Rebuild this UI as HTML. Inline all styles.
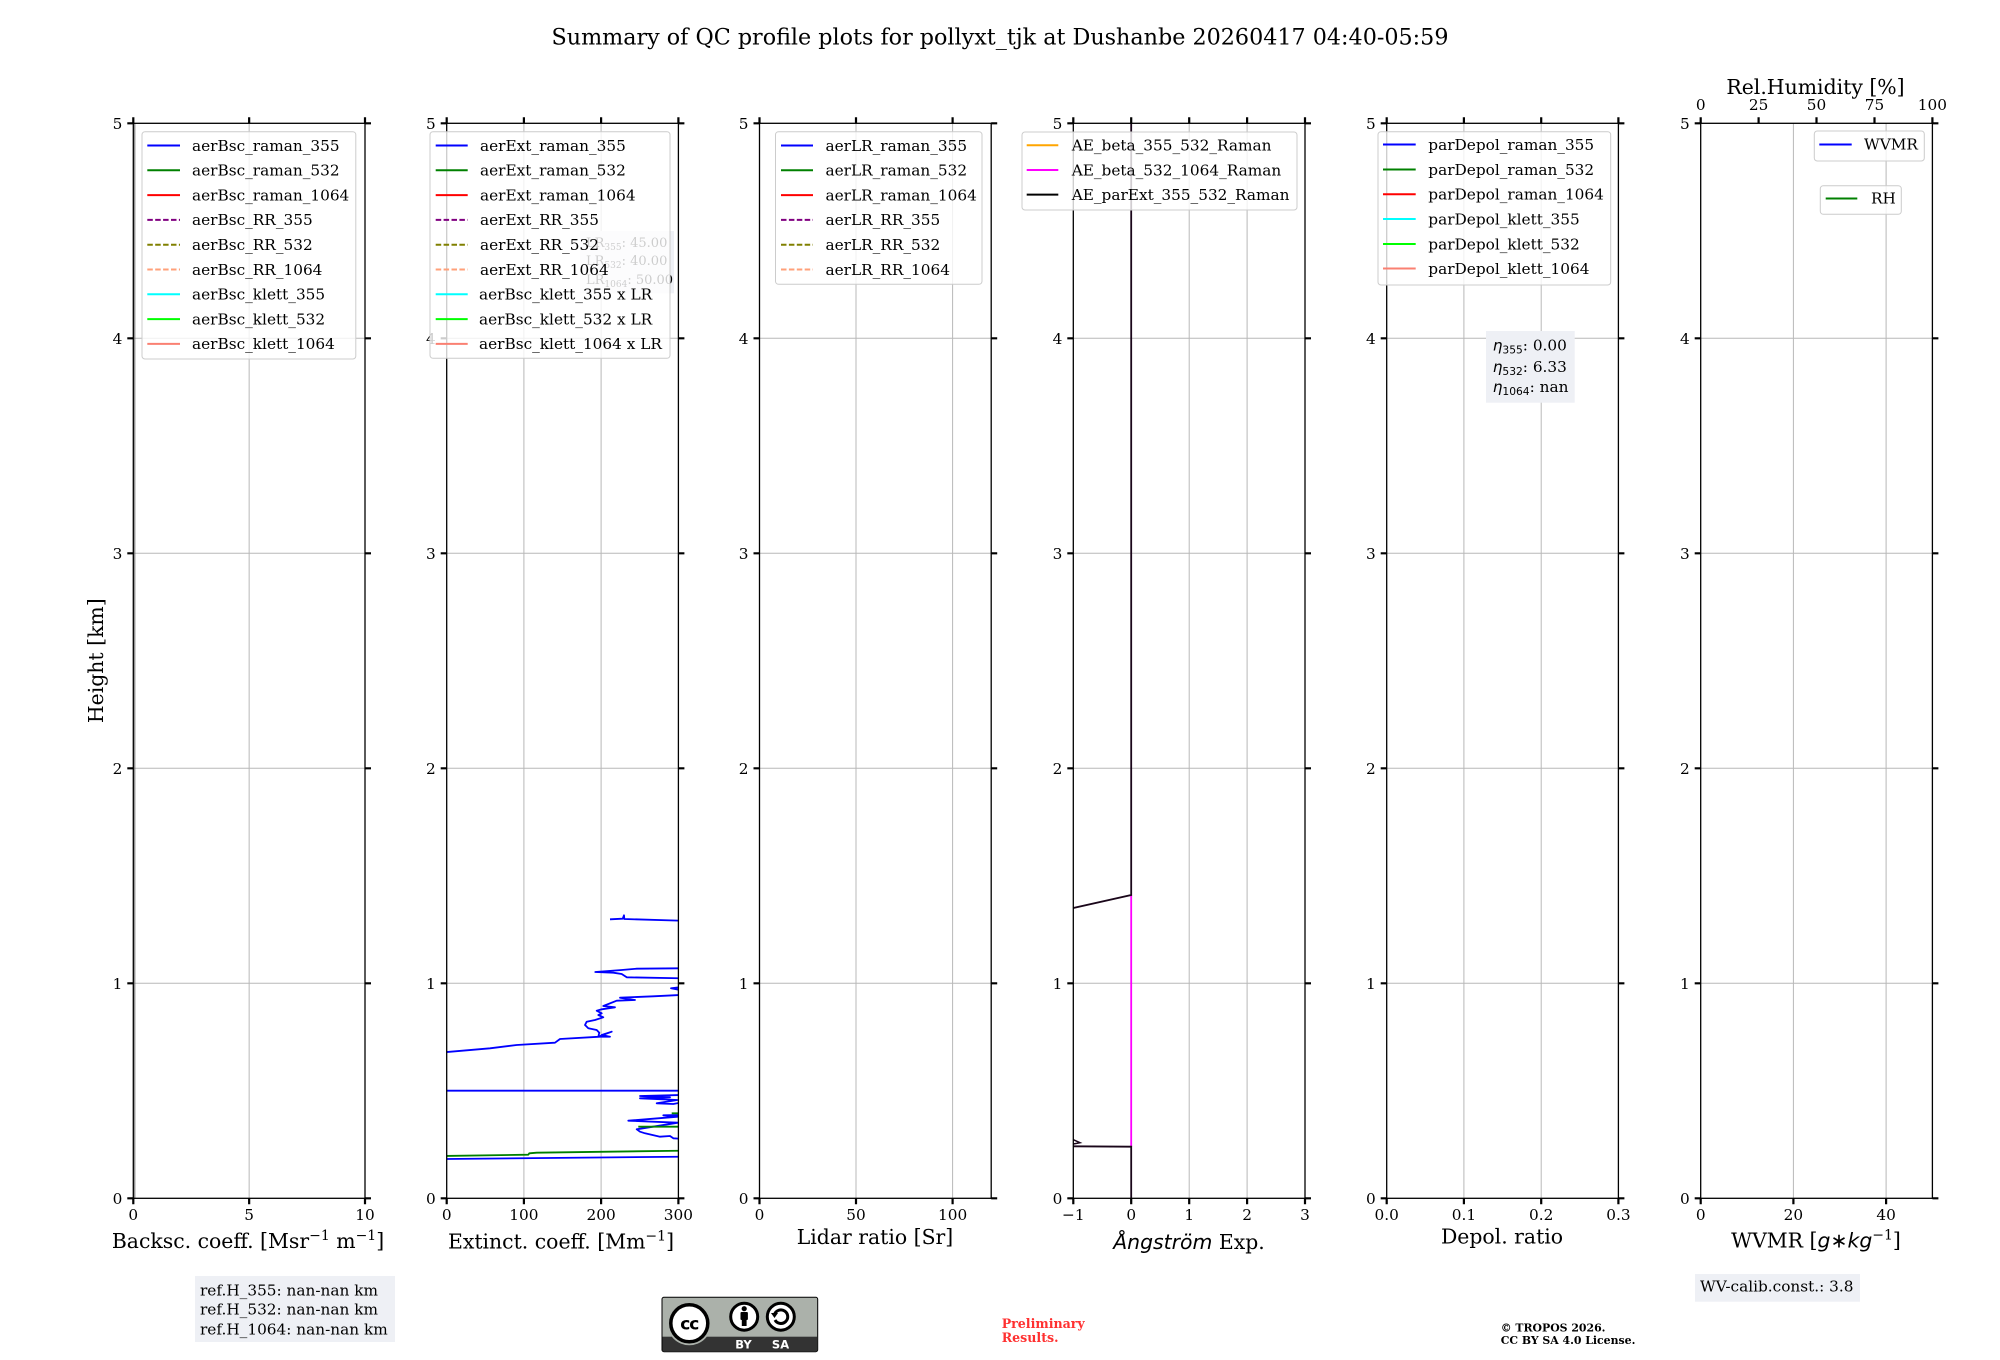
<!DOCTYPE html>
<html><head><meta charset="utf-8"><style>
html,body{margin:0;padding:0;background:#fff;}
svg{display:block;}
text{font-family:"DejaVu Serif","Liberation Serif",serif;fill:#000;}
.tk{font-size:15.3px;}
.lg{font-size:15.3px;}
.al{font-size:20.4px;}
.sans{font-family:"DejaVu Sans","Liberation Sans",sans-serif;}
</style></head><body>
<svg width="2000" height="1360" viewBox="0 0 2000 1360" xmlns="http://www.w3.org/2000/svg">
<defs>
<clipPath id="c2"><rect x="446.7" y="123.3" width="231.7" height="1075"/></clipPath>
<clipPath id="c4"><rect x="1073.3" y="123.3" width="231.7" height="1075"/></clipPath>
</defs>
<rect width="2000" height="1360" fill="#fff"/>
<text x="1000" y="44.6" font-size="22" text-anchor="middle" textLength="897" lengthAdjust="spacingAndGlyphs">Summary of QC profile plots for pollyxt_tjk at Dushanbe 20260417 04:40-05:59</text>

<!-- GRID -->
<g stroke="#b8b8b8" stroke-width="1" fill="none">
<path d="M133.3 983.3H365M133.3 768.3H365M133.3 553.3H365M133.3 338.3H365M249.15 123.3V1198.3"/>
<path d="M446.7 983.3H678.4M446.7 768.3H678.4M446.7 553.3H678.4M446.7 338.3H678.4M523.9 123.3V1198.3M601.1 123.3V1198.3"/>
<path d="M759.5 983.3H991.2M759.5 768.3H991.2M759.5 553.3H991.2M759.5 338.3H991.2M856 123.3V1198.3M952.6 123.3V1198.3"/>
<path d="M1073.3 983.3H1305M1073.3 768.3H1305M1073.3 553.3H1305M1073.3 338.3H1305M1131.2 123.3V1198.3M1189.2 123.3V1198.3M1247.1 123.3V1198.3"/>
<path d="M1386.7 983.3H1618.4M1386.7 768.3H1618.4M1386.7 553.3H1618.4M1386.7 338.3H1618.4M1463.9 123.3V1198.3M1541.2 123.3V1198.3"/>
<path d="M1700.7 983.3H1932.4M1700.7 768.3H1932.4M1700.7 553.3H1932.4M1700.7 338.3H1932.4M1793.4 123.3V1198.3M1886.1 123.3V1198.3"/>
</g>

<!-- DATA panel 1 -->
<path d="M134.8 123.3V1198.3" stroke="#666" stroke-width="1" fill="none"/>

<!-- DATA panel 2 -->
<g clip-path="url(#c2)" fill="none" stroke-width="1.8" stroke-linejoin="round">
<g stroke="#0000ff">
<path d="M610,919.3 L622.7,918.7 L624,915.3 L624.3,919 L680,920.7"/>
<path d="M680,968.3 L636.7,968.7 L621.7,970 L595.3,972 L613.3,972.7 L621.7,974 L626.7,977.3 L680,978.3"/>
<path d="M680,987.3 L671,988.3 L680,990"/>
<path d="M680,995 L653.3,996.3 L620,997.7 L635,1000 L616.7,1000.7 L603.3,1006 L615,1007.3 L601.7,1009.3 L596.7,1010.7 L601.7,1013.3 L598.3,1015 L603.3,1017.3 L595,1020 L586.7,1021.7 L585,1025 L588.3,1028.3 L596.7,1030 L599.3,1032.7 L598.3,1036.7 L611.7,1031.7 L601.7,1035 L610,1036.7 L600,1036.7 L560,1039 L555,1042.7 L516.7,1045 L490,1048.3 L444,1052.3"/>
<path d="M444,1090.7 L680,1090.7"/>
<path d="M680,1095 L640,1096 L670,1097.3 L640,1098.3 L677.3,1100 L656.7,1103.3 L673.3,1104 L680,1102.7"/>
<path d="M680,1115 L663.3,1115.3 L678,1116.7 L628.3,1120.7 L678,1122.7 L636.7,1129.3 L640,1131.7 L645,1133.3 L660,1136.7 L670,1136 L673.3,1138.3 L680,1138.7"/>
<path d="M444,1159 L680,1156.7"/>
</g>
<g stroke="#008000">
<path d="M444,1156 L528.3,1154.7 L529.3,1153.3 L536.7,1152.7 L680,1150.7"/>
<path d="M671.7,1113.3 H680"/>
<path d="M638.3,1126.7 H680"/>
</g>
</g>

<!-- DATA panel 4 -->
<g clip-path="url(#c4)" fill="none" stroke-width="1.8">
<path d="M1131.2 895V1146.7" stroke="#ff00ff"/>
<path d="M1131.2 120V895L1071 908.5" stroke="#1a061a"/>
<path d="M1131.2 1198.3V1146.7L1071 1146.3" stroke="#1a061a"/>
<path d="M1073.3 1139.7L1080 1142.7L1073.3 1144" stroke="#1a061a" stroke-width="1.5"/>
</g>

<!-- SPINES -->
<g stroke="#000" stroke-width="1.3" fill="none">
<rect x="133.3" y="123.3" width="231.7" height="1075"/>
<rect x="446.7" y="123.3" width="231.7" height="1075"/>
<rect x="759.5" y="123.3" width="231.7" height="1075"/>
<rect x="1073.3" y="123.3" width="231.7" height="1075"/>
<rect x="1386.7" y="123.3" width="231.7" height="1075"/>
<rect x="1700.7" y="123.3" width="231.7" height="1075"/>
</g>

<!-- TICKS -->
<g stroke="#000" stroke-width="2.2" fill="none">
<path d="M133.3 1198.3v6M249.15 1198.3v6M365 1198.3v6M133.3 123.3v-6M249.15 123.3v-6M365 123.3v-6
M127.3 1198.3h6M127.3 983.3h6M127.3 768.3h6M127.3 553.3h6M127.3 338.3h6M127.3 123.3h6
M365 1198.3h6M365 983.3h6M365 768.3h6M365 553.3h6M365 338.3h6M365 123.3h6"/>
<path d="M446.7 1198.3v6M523.9 1198.3v6M601.1 1198.3v6M678.4 1198.3v6M446.7 123.3v-6M523.9 123.3v-6M601.1 123.3v-6M678.4 123.3v-6
M440.7 1198.3h6M440.7 983.3h6M440.7 768.3h6M440.7 553.3h6M440.7 338.3h6M440.7 123.3h6
M678.4 1198.3h6M678.4 983.3h6M678.4 768.3h6M678.4 553.3h6M678.4 338.3h6M678.4 123.3h6"/>
<path d="M759.5 1198.3v6M856 1198.3v6M952.6 1198.3v6M759.5 123.3v-6M856 123.3v-6M952.6 123.3v-6
M753.5 1198.3h6M753.5 983.3h6M753.5 768.3h6M753.5 553.3h6M753.5 338.3h6M753.5 123.3h6
M991.2 1198.3h6M991.2 983.3h6M991.2 768.3h6M991.2 553.3h6M991.2 338.3h6M991.2 123.3h6"/>
<path d="M1073.3 1198.3v6M1131.2 1198.3v6M1189.2 1198.3v6M1247.1 1198.3v6M1305 1198.3v6M1073.3 123.3v-6M1131.2 123.3v-6M1189.2 123.3v-6M1247.1 123.3v-6M1305 123.3v-6
M1067.3 1198.3h6M1067.3 983.3h6M1067.3 768.3h6M1067.3 553.3h6M1067.3 338.3h6M1067.3 123.3h6
M1305 1198.3h6M1305 983.3h6M1305 768.3h6M1305 553.3h6M1305 338.3h6M1305 123.3h6"/>
<path d="M1386.7 1198.3v6M1463.9 1198.3v6M1541.2 1198.3v6M1618.4 1198.3v6M1386.7 123.3v-6M1463.9 123.3v-6M1541.2 123.3v-6M1618.4 123.3v-6
M1380.7 1198.3h6M1380.7 983.3h6M1380.7 768.3h6M1380.7 553.3h6M1380.7 338.3h6M1380.7 123.3h6
M1618.4 1198.3h6M1618.4 983.3h6M1618.4 768.3h6M1618.4 553.3h6M1618.4 338.3h6M1618.4 123.3h6"/>
<path d="M1700.7 1198.3v6M1793.4 1198.3v6M1886.1 1198.3v6M1700.7 123.3v-6M1758.6 123.3v-6M1816.5 123.3v-6M1874.5 123.3v-6M1932.4 123.3v-6
M1694.7 1198.3h6M1694.7 983.3h6M1694.7 768.3h6M1694.7 553.3h6M1694.7 338.3h6M1694.7 123.3h6
M1932.4 1198.3h6M1932.4 983.3h6M1932.4 768.3h6M1932.4 553.3h6M1932.4 338.3h6M1932.4 123.3h6"/>
</g>

<!-- Y TICK LABELS -->
<g class="tk" text-anchor="end">
<text x="122.3" y="1203.8">0</text><text x="122.3" y="988.8">1</text><text x="122.3" y="773.8">2</text><text x="122.3" y="558.8">3</text><text x="122.3" y="343.8">4</text><text x="122.3" y="128.8">5</text>
<text x="435.7" y="1203.8">0</text><text x="435.7" y="988.8">1</text><text x="435.7" y="773.8">2</text><text x="435.7" y="558.8">3</text><text x="435.7" y="343.8">4</text><text x="435.7" y="128.8">5</text>
<text x="748.5" y="1203.8">0</text><text x="748.5" y="988.8">1</text><text x="748.5" y="773.8">2</text><text x="748.5" y="558.8">3</text><text x="748.5" y="343.8">4</text><text x="748.5" y="128.8">5</text>
<text x="1062.3" y="1203.8">0</text><text x="1062.3" y="988.8">1</text><text x="1062.3" y="773.8">2</text><text x="1062.3" y="558.8">3</text><text x="1062.3" y="343.8">4</text><text x="1062.3" y="128.8">5</text>
<text x="1375.7" y="1203.8">0</text><text x="1375.7" y="988.8">1</text><text x="1375.7" y="773.8">2</text><text x="1375.7" y="558.8">3</text><text x="1375.7" y="343.8">4</text><text x="1375.7" y="128.8">5</text>
<text x="1689.7" y="1203.8">0</text><text x="1689.7" y="988.8">1</text><text x="1689.7" y="773.8">2</text><text x="1689.7" y="558.8">3</text><text x="1689.7" y="343.8">4</text><text x="1689.7" y="128.8">5</text>
</g>

<!-- X TICK LABELS -->
<g class="tk" text-anchor="middle">
<text x="133.3" y="1219.8">0</text><text x="249.15" y="1219.8">5</text><text x="365" y="1219.8">10</text>
<text x="446.7" y="1219.8">0</text><text x="523.9" y="1219.8">100</text><text x="601.1" y="1219.8">200</text><text x="678.4" y="1219.8">300</text>
<text x="759.5" y="1219.8">0</text><text x="856" y="1219.8">50</text><text x="952.6" y="1219.8">100</text>
<text x="1073.3" y="1219.8">−1</text><text x="1131.2" y="1219.8">0</text><text x="1189.2" y="1219.8">1</text><text x="1247.1" y="1219.8">2</text><text x="1305" y="1219.8">3</text>
<text x="1386.7" y="1219.8">0.0</text><text x="1463.9" y="1219.8">0.1</text><text x="1541.2" y="1219.8">0.2</text><text x="1618.4" y="1219.8">0.3</text>
<text x="1700.7" y="1219.8">0</text><text x="1793.4" y="1219.8">20</text><text x="1886.1" y="1219.8">40</text>
<text x="1700.7" y="109.8">0</text><text x="1758.6" y="109.8">25</text><text x="1816.5" y="109.8">50</text><text x="1874.5" y="109.8">75</text><text x="1932.4" y="109.8">100</text>
</g>

<!-- AXIS LABELS -->
<g class="al" text-anchor="middle">
<text x="248" y="1248">Backsc. coeff. [Msr<tspan font-size="14" dy="-8">−1</tspan><tspan dy="8"> m</tspan><tspan font-size="14" dy="-8">−1</tspan><tspan dy="8">]</tspan></text>
<text x="561" y="1248.3">Extinct. coeff. [Mm<tspan font-size="14" dy="-8">−1</tspan><tspan dy="8">]</tspan></text>
<text x="875" y="1244">Lidar ratio [Sr]</text>
<text x="1189" y="1249"><tspan class="sans" font-style="italic">Ångström</tspan> Exp.</text>
<text x="1502" y="1243.3">Depol. ratio</text>
<text x="1816" y="1247.3">WVMR [<tspan class="sans" font-style="italic">g</tspan><tspan class="sans">∗</tspan><tspan class="sans" font-style="italic">kg</tspan><tspan font-size="14" dy="-8">−1</tspan><tspan dy="8">]</tspan></text>
<text x="1815.5" y="94">Rel.Humidity [%]</text>
<text transform="translate(103,660.7) rotate(-90)" x="0" y="0">Height [km]</text>
</g>

<!-- LR box panel 2 (behind legend) -->
<rect x="580" y="231" width="94" height="62.3" fill="#eef0f5"/>
<g font-size="13">
<text x="586" y="246.8">LR<tspan font-size="9" dy="3">355</tspan><tspan dy="-3">: 45.00</tspan></text>
<text x="586" y="265.2">LR<tspan font-size="9" dy="3">532</tspan><tspan dy="-3">: 40.00</tspan></text>
<text x="586" y="283.8">LR<tspan font-size="9" dy="3">1064</tspan><tspan dy="-3">: 50.00</tspan></text>
</g>

<!-- LEGENDS -->
<g class="lg">
<!-- panel 1 -->
<rect x="142" y="131.7" width="213.8" height="227.3" rx="3" fill="#fff" fill-opacity="0.8" stroke="#cccccc" stroke-width="1"/>
<g stroke-width="2" fill="none">
<path d="M147.3 145.5H180" stroke="#0000ff"/>
<path d="M147.3 170.3H180" stroke="#008000"/>
<path d="M147.3 195.1H180" stroke="#ff0000"/>
<path d="M147.3 219.9H180" stroke="#800080" stroke-dasharray="5.5,2.4"/>
<path d="M147.3 244.7H180" stroke="#808000" stroke-dasharray="5.5,2.4"/>
<path d="M147.3 269.5H180" stroke="#ffa07a" stroke-dasharray="5.5,2.4"/>
<path d="M147.3 294.3H180" stroke="#00ffff"/>
<path d="M147.3 319.1H180" stroke="#00ff00"/>
<path d="M147.3 343.9H180" stroke="#fa8072"/>
</g>
<text x="192" y="150.8">aerBsc_raman_355</text>
<text x="192" y="175.6">aerBsc_raman_532</text>
<text x="192" y="200.4">aerBsc_raman_1064</text>
<text x="192" y="225.2">aerBsc_RR_355</text>
<text x="192" y="250">aerBsc_RR_532</text>
<text x="192" y="274.8">aerBsc_RR_1064</text>
<text x="192" y="299.6">aerBsc_klett_355</text>
<text x="192" y="324.4">aerBsc_klett_532</text>
<text x="192" y="349.2">aerBsc_klett_1064</text>

<!-- panel 2 -->
<rect x="430" y="131.7" width="240" height="226.6" rx="3" fill="#fff" fill-opacity="0.8" stroke="#cccccc" stroke-width="1"/>
<g stroke-width="2" fill="none">
<path d="M435.7 145.5H467.7" stroke="#0000ff"/>
<path d="M435.7 170.3H467.7" stroke="#008000"/>
<path d="M435.7 195.1H467.7" stroke="#ff0000"/>
<path d="M435.7 219.9H467.7" stroke="#800080" stroke-dasharray="5.5,2.4"/>
<path d="M435.7 244.7H467.7" stroke="#808000" stroke-dasharray="5.5,2.4"/>
<path d="M435.7 269.5H467.7" stroke="#ffa07a" stroke-dasharray="5.5,2.4"/>
<path d="M435.7 294.3H467.7" stroke="#00ffff"/>
<path d="M435.7 319.1H467.7" stroke="#00ff00"/>
<path d="M435.7 343.9H467.7" stroke="#fa8072"/>
</g>
<text x="480" y="150.8">aerExt_raman_355</text>
<text x="480" y="175.6">aerExt_raman_532</text>
<text x="480" y="200.4">aerExt_raman_1064</text>
<text x="480" y="225.2">aerExt_RR_355</text>
<text x="480" y="250">aerExt_RR_532</text>
<text x="480" y="274.8">aerExt_RR_1064</text>
<text x="479" y="299.6">aerBsc_klett_355 x LR</text>
<text x="479" y="324.4">aerBsc_klett_532 x LR</text>
<text x="479" y="349.2">aerBsc_klett_1064 x LR</text>

<!-- panel 3 -->
<rect x="775.5" y="131.7" width="206.5" height="152.6" rx="3" fill="#fff" fill-opacity="0.8" stroke="#cccccc" stroke-width="1"/>
<g stroke-width="2" fill="none">
<path d="M781 145.5H813" stroke="#0000ff"/>
<path d="M781 170.3H813" stroke="#008000"/>
<path d="M781 195.1H813" stroke="#ff0000"/>
<path d="M781 219.9H813" stroke="#800080" stroke-dasharray="5.5,2.4"/>
<path d="M781 244.7H813" stroke="#808000" stroke-dasharray="5.5,2.4"/>
<path d="M781 269.5H813" stroke="#ffa07a" stroke-dasharray="5.5,2.4"/>
</g>
<text x="825.5" y="150.8">aerLR_raman_355</text>
<text x="825.5" y="175.6">aerLR_raman_532</text>
<text x="825.5" y="200.4">aerLR_raman_1064</text>
<text x="825.5" y="225.2">aerLR_RR_355</text>
<text x="825.5" y="250">aerLR_RR_532</text>
<text x="825.5" y="274.8">aerLR_RR_1064</text>

<!-- panel 4 -->
<rect x="1022" y="132" width="275" height="78" rx="3" fill="#fff" fill-opacity="0.8" stroke="#cccccc" stroke-width="1"/>
<g stroke-width="2" fill="none">
<path d="M1026.7 145.3H1058.3" stroke="#ffa500"/>
<path d="M1026.7 170H1058.3" stroke="#ff00ff"/>
<path d="M1026.7 194.6H1058.3" stroke="#000"/>
</g>
<text x="1071.7" y="150.6">AE_beta_355_532_Raman</text>
<text x="1071.7" y="175.3">AE_beta_532_1064_Raman</text>
<text x="1071.7" y="199.9">AE_parExt_355_532_Raman</text>

<!-- panel 5 -->
<rect x="1378" y="131.7" width="232.7" height="153.3" rx="3" fill="#fff" fill-opacity="0.8" stroke="#cccccc" stroke-width="1"/>
<g stroke-width="2" fill="none">
<path d="M1383 144.5H1415.7" stroke="#0000ff"/>
<path d="M1383 169.5H1415.7" stroke="#008000"/>
<path d="M1383 194.3H1415.7" stroke="#ff0000"/>
<path d="M1383 219H1415.7" stroke="#00ffff"/>
<path d="M1383 244H1415.7" stroke="#00ff00"/>
<path d="M1383 268.5H1415.7" stroke="#fa8072"/>
</g>
<text x="1428.3" y="149.8">parDepol_raman_355</text>
<text x="1428.3" y="174.8">parDepol_raman_532</text>
<text x="1428.3" y="199.6">parDepol_raman_1064</text>
<text x="1428.3" y="224.3">parDepol_klett_355</text>
<text x="1428.3" y="249.3">parDepol_klett_532</text>
<text x="1428.3" y="273.8">parDepol_klett_1064</text>

<!-- panel 6 -->
<rect x="1814.3" y="131" width="110" height="30" rx="3" fill="#fff" fill-opacity="0.8" stroke="#cccccc" stroke-width="1"/>
<path d="M1819.3 144.5H1851.7" stroke="#0000ff" stroke-width="2"/>
<text x="1864" y="149.6">WVMR</text>
<rect x="1820.3" y="185.7" width="81" height="28.6" rx="3" fill="#fff" fill-opacity="0.8" stroke="#cccccc" stroke-width="1"/>
<path d="M1825.7 198.5H1857.3" stroke="#008000" stroke-width="2"/>
<text x="1871" y="203.6">RH</text>
</g>

<!-- eta box -->
<rect x="1486" y="331" width="88.7" height="71.7" fill="#eef0f5"/>
<g font-size="15.3">
<text x="1492.7" y="350.3"><tspan class="sans" font-style="italic">η</tspan><tspan class="sans" font-size="10.7" dy="3">355</tspan><tspan dy="-3">: 0.00</tspan></text>
<text x="1492.7" y="372"><tspan class="sans" font-style="italic">η</tspan><tspan class="sans" font-size="10.7" dy="3">532</tspan><tspan dy="-3">: 6.33</tspan></text>
<text x="1492.7" y="392"><tspan class="sans" font-style="italic">η</tspan><tspan class="sans" font-size="10.7" dy="3">1064</tspan><tspan dy="-3">: nan</tspan></text>
</g>

<!-- ref.H box -->
<rect x="195" y="1276" width="200" height="66" fill="#eef0f5"/>
<g font-size="15.3">
<text x="200" y="1295.3">ref.H_355: nan-nan km</text>
<text x="200" y="1314.3">ref.H_532: nan-nan km</text>
<text x="200" y="1334.3">ref.H_1064: nan-nan km</text>
</g>

<!-- WV calib box -->
<rect x="1695" y="1274" width="165" height="27.7" fill="#eef0f5"/>
<text x="1700" y="1291.5" font-size="15.3">WV-calib.const.: 3.8</text>

<!-- CC logo -->
<g>
<rect x="662" y="1297.3" width="155.7" height="54.4" rx="2" fill="#abb1aa" stroke="#000" stroke-width="1"/>
<rect x="662.5" y="1336.7" width="154.7" height="14.5" fill="#333"/>
<circle cx="689.3" cy="1323.3" r="22" fill="#abb1aa"/>
<circle cx="689.3" cy="1323.3" r="18.5" fill="#fff" stroke="#000" stroke-width="3.5"/>
<text x="689.3" y="1329.5" text-anchor="middle" class="sans" font-weight="bold" font-size="17" letter-spacing="-1">cc</text>
<circle cx="744.2" cy="1316.7" r="13.5" fill="#fff" stroke="#000" stroke-width="3"/>
<circle cx="744.2" cy="1308.7" r="2.6" fill="#000"/>
<rect x="740.5" y="1312" width="7.4" height="8" rx="1" fill="#000"/>
<rect x="741.8" y="1319" width="4.8" height="7" fill="#000"/>
<circle cx="780.8" cy="1316.7" r="13.5" fill="#fff" stroke="#000" stroke-width="3"/>
<path d="M774.5 1314.5A6.8 6.8 0 1 1 775 1320" fill="none" stroke="#000" stroke-width="3"/>
<path d="M771 1313L778 1313L774.5 1318Z" fill="#000"/>
<text x="743.5" y="1348.5" text-anchor="middle" class="sans" font-weight="bold" font-size="11.5" style="fill:#fff">BY</text>
<text x="780.5" y="1348.5" text-anchor="middle" class="sans" font-weight="bold" font-size="11.5" style="fill:#fff">SA</text>
</g>

<!-- Preliminary -->
<g font-size="12.6" font-weight="bold">
<text x="1001.7" y="1327.8" style="fill:#ff3030">Preliminary</text>
<text x="1001.7" y="1342" style="fill:#ff3030">Results.</text>
</g>

<!-- copyright -->
<g font-size="10.9" font-weight="bold">
<text x="1500.7" y="1331.4">© TROPOS 2026.</text>
<text x="1500.7" y="1343.8">CC BY SA 4.0 License.</text>
</g>
</svg>
</body></html>
